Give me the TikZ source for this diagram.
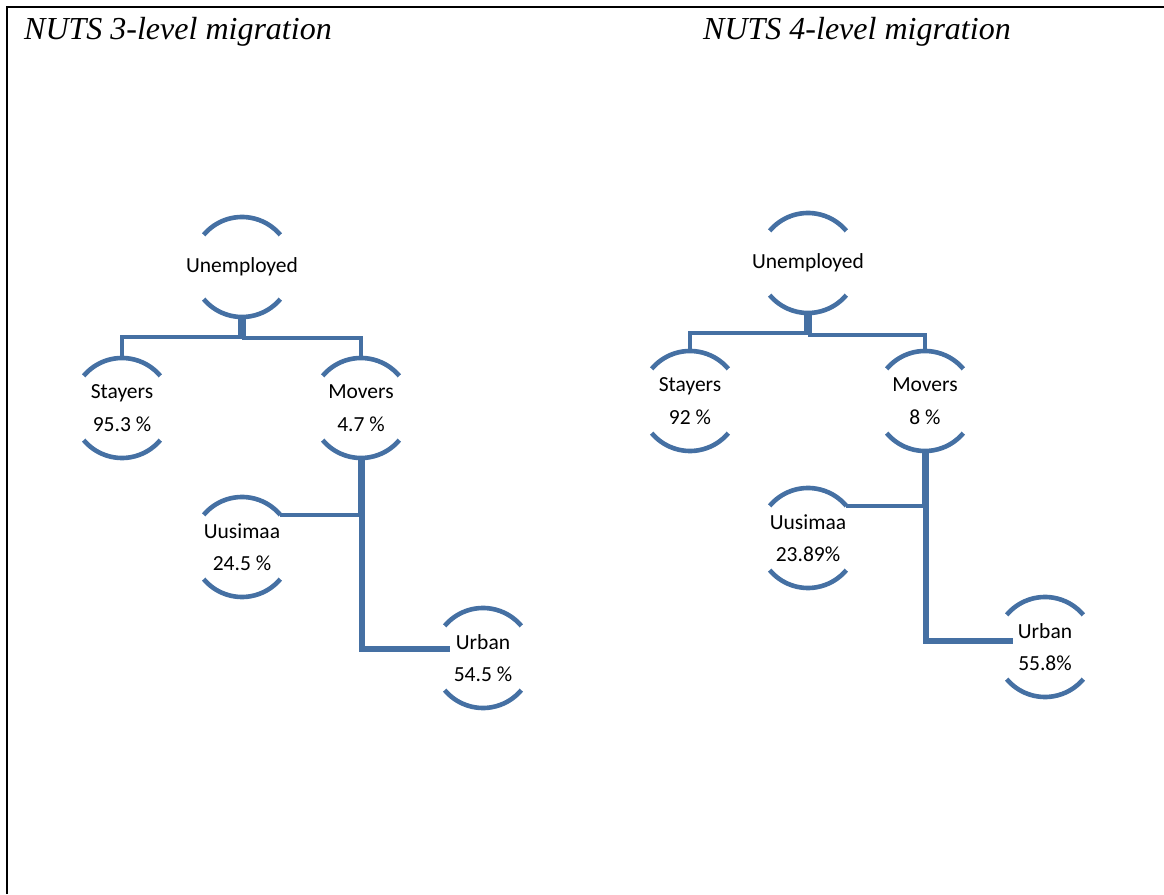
\documentclass[tikz,border=0pt]{standalone}
\usepackage{fontspec}
\setmainfont{Carlito}
\newfontfamily\titlefont{Liberation Serif}
\definecolor{chartblue}{RGB}{69,112,163}
\newcommand\bubarcs[1]{%
  \draw[arcline] (#1.140) arc[start angle=140,end angle=40,radius=50];
  \draw[arcline] (#1.220) arc[start angle=220,end angle=320,radius=50];}
\begin{document}
\begin{tikzpicture}[x=1pt,y=1pt,
  bub/.style={circle,minimum size=100pt,inner sep=0pt,outer sep=0pt},
  txt/.style={align=center,font=\fontsize{21.5}{32.5}\selectfont,inner sep=2pt,text=black},
  arcline/.style={draw=chartblue,line width=4.6pt},
  link/.style={draw=chartblue,line width=4.6pt},
  ttl/.style={anchor=base west,font=\titlefont\itshape\fontsize{32}{38}\selectfont,inner sep=0pt}]
\useasboundingbox (0,0) rectangle (1164,894);
\draw[line width=2.5pt] (7,0) -- (7,887) -- (1164,887);
\node[ttl] (t1) at (24,854) {NUTS 3-level migration};
\node[ttl] (t2) at (703,854) {NUTS 4-level migration};
% left panel
\node[bub,label={[txt,name=U1t]center:{Unemployed}}] (U1) at (242,627) {};
\node[bub,label={[txt,name=S1t]center:{Stayers\\95.3 \%}}] (S1) at (122,486) {};
\node[bub,label={[txt,name=M1t]center:{Movers\\4.7 \%}}] (M1) at (361,486) {};
\node[bub,label={[txt,name=Uu1t]center:{Uusimaa\\24.5 \%}}] (Uu1) at (242,347) {};
\node[bub,label={[txt,name=Ur1t]center:{Urban\\54.5 \%}}] (Ur1) at (483,236) {};
\foreach \n in {U1,S1,M1,Uu1,Ur1} {\bubarcs{\n}}
\draw[link] ([xshift=-2pt]U1.south) -- ++(0,-20) -| (S1.north);
\draw[link] ([xshift=2pt]U1.south) -- ++(0,-21) -| (M1.north);
\draw[link] ([xshift=-1pt]M1.south) |- (Uu1.40);
\draw[link,line width=5.5pt] ([xshift=1pt]M1.south) |- ([shift={(-33,9)}]Ur1.center);
% right panel
\node[bub,label={[txt,name=U2t]center:{Unemployed}}] (U2) at (808,631) {};
\node[bub,label={[txt,name=S2t]center:{Stayers\\92 \%}}] (S2) at (690,493) {};
\node[bub,label={[txt,name=M2t]center:{Movers\\8 \%}}] (M2) at (925,493) {};
\node[bub,label={[txt,name=Uu2t]center:{Uusimaa\\23.89\%}}] (Uu2) at (808,356) {};
\node[bub,label={[txt,name=Ur2t]center:{Urban\\55.8\%}}] (Ur2) at (1045,247) {};
\foreach \n in {U2,S2,M2,Uu2,Ur2} {\bubarcs{\n}}
\draw[link] ([xshift=-2pt]U2.south) -- ++(0,-20) -| (S2.north);
\draw[link] ([xshift=2pt]U2.south) -- ++(0,-22) -| (M2.north);
\draw[link] ([xshift=-1pt]M2.south) |- (Uu2.40);
\draw[link,line width=5.5pt] ([xshift=1pt]M2.south) |- ([shift={(-32,6)}]Ur2.center);
\end{tikzpicture}
\end{document}
